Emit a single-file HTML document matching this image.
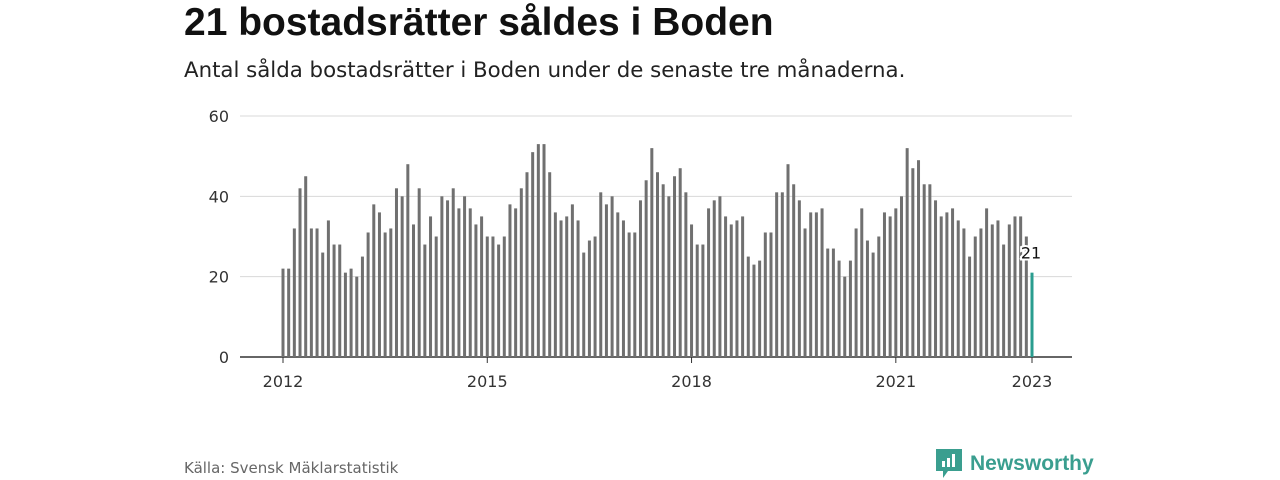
<!DOCTYPE html>
<html><head><meta charset="utf-8"><style>
body{margin:0;width:1280px;height:480px;background:#fff;font-family:"Liberation Sans","DejaVu Sans",sans-serif;overflow:hidden;position:relative}
h1{position:absolute;left:184px;top:0;margin:0;font-size:39px;font-weight:bold;color:#111;line-height:46px}
.sub{position:absolute;left:184px;top:58px;font-size:21.3px;color:#222;font-family:"DejaVu Sans",sans-serif}
.src{position:absolute;left:184px;top:459px;font-size:15px;color:#666;font-family:"DejaVu Sans",sans-serif}
.logo{position:absolute;left:936px;top:449px;display:flex;align-items:center;color:#3a9e8f;font-size:21px;font-weight:bold}
svg text{font-family:"DejaVu Sans",sans-serif}
</style></head><body>
<h1>21 bostadsrätter såldes i Boden</h1>
<div class="sub">Antal sålda bostadsrätter i Boden under de senaste tre månaderna.</div>
<svg id="chart" width="1280" height="480" style="position:absolute;left:0;top:0"></svg>
<div class="src">Källa: Svensk Mäklarstatistik</div>
<div class="logo"><svg width="26" height="30" viewBox="0 0 26 30"><path d="M0 0H26V22H12L7 29V22H0Z" fill="#3a9e8f"/><rect x="6" y="12" width="3" height="6" fill="#fff"/><rect x="11" y="9" width="3" height="9" fill="#fff"/><rect x="16" y="5" width="3" height="13" fill="#fff"/></svg><span style="margin-left:8px">Newsworthy</span></div>
<script>
const values=[22,22,32,42,45,32,32,26,34,28,28,21,22,20,25,31,38,36,31,32,42,40,48,33,42,28,35,30,40,39,42,37,40,37,33,35,30,30,28,30,38,37,42,46,51,53,53,46,36,34,35,38,34,26,29,30,41,38,40,36,34,31,31,39,44,52,46,43,40,45,47,41,33,28,28,37,39,40,35,33,34,35,25,23,24,31,31,41,41,48,43,39,32,36,36,37,27,27,24,20,24,32,37,29,26,30,36,35,37,40,52,47,49,43,43,39,35,36,37,34,32,25,30,32,37,33,34,28,33,35,35,30,21];
const yTicks=[0,20,40,60];
const xYears=[2012,2015,2018,2021,2023];
const svg=document.getElementById('chart');const NS='http://www.w3.org/2000/svg';
const x0=283,x1=1032,y0=357,y60=116;
const xs=i=>x0+(x1-x0)*i/(values.length-1);
const ys=v=>y0-(y0-y60)*v/60;
function mk(t,a){const e=document.createElementNS(NS,t);for(const k in a)e.setAttribute(k,a[k]);svg.appendChild(e);return e;}
yTicks.forEach(t=>{
 const l=mk('line',{x1:240,x2:1072,y1:ys(t),y2:ys(t),stroke:t?'#d8d8d8':'#333','stroke-width':t?1:1.5});
 
 
 const tx=mk('text',{x:229,y:ys(t)+6,'text-anchor':'end','font-size':16,fill:'#333'});tx.textContent=t;
 
 
});
values.forEach((v,i)=>{
 const r=mk('rect',{x:xs(i)-1.5,y:ys(v),width:3,height:y0-ys(v),fill:i==values.length-1?'#2a9d8f':'#707070'});
 
 
});
xYears.forEach(yr=>{
 const i=(yr-2012)*12;const x=xs(i);
 const tk=mk('line',{x1:x,x2:x,y1:y0,y2:y0+6,stroke:'#333'});
 
 
 const tx=mk('text',{x:x,y:387,'text-anchor':'middle','font-size':16,fill:'#333'});tx.textContent=yr;
 
 
});
const last=values.length-1;
const lb=mk('text',{x:xs(last)-1,y:ys(values[last])-14,'text-anchor':'middle','font-size':16,fill:'#111',stroke:'#fff','stroke-width':4,'paint-order':'stroke'});
lb.textContent=values[last];


</script>
</body></html>
